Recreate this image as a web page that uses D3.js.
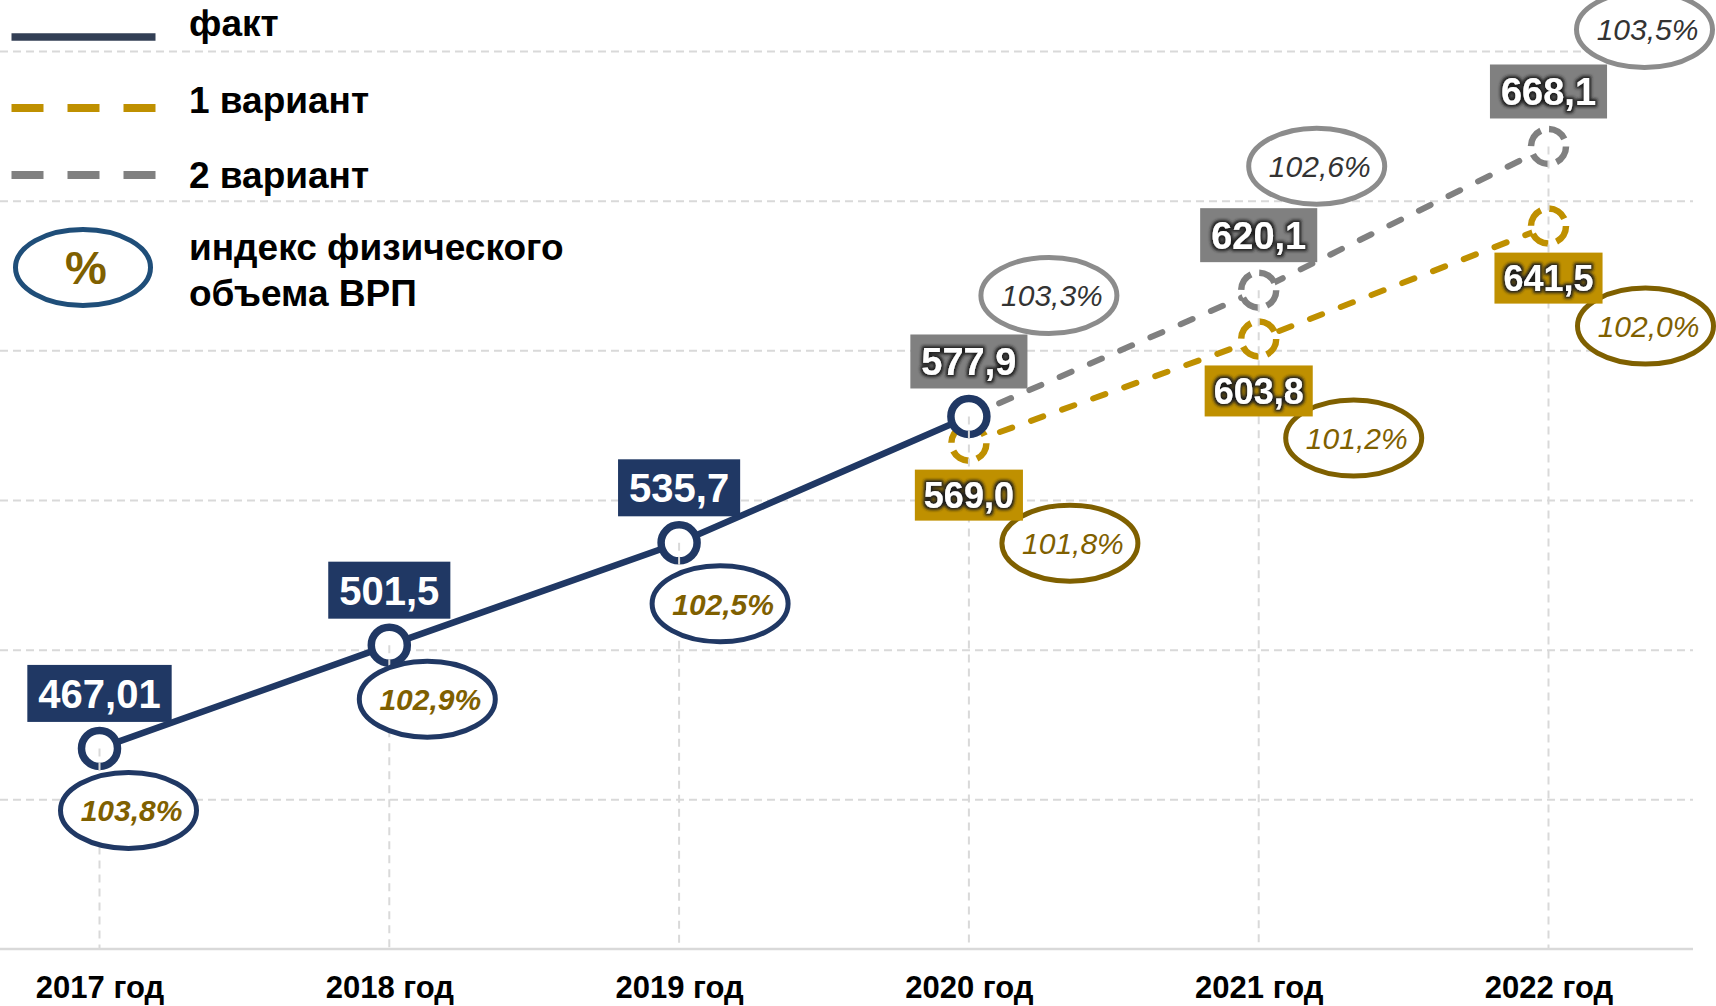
<!DOCTYPE html>
<html>
<head>
<meta charset="utf-8">
<script src="https://cdn.jsdelivr.net/npm/d3@7"></script>
<style>
  body { margin: 0; background: #fff; }
  svg { display: block; font-family: "Liberation Sans", Arial, sans-serif; }
</style>
</head>
<body>
<script>
// ВРП: факт и два варианта прогноза

var years = ["2017 год", "2018 год", "2019 год", "2020 год", "2021 год", "2022 год"];

var factYears = years.slice(0, 4);
var factValues = [467.01, 501.5, 535.7, 577.9];
var factIndex = [103.8, 102.9, 102.5];          // 2017-2019

var forecastYears = years.slice(3);
var var1Values = [569.0, 603.8, 641.5];
var var1Index = [101.8, 101.2, 102.0];
var var2Values = [577.9, 620.1, 668.1];
var var2Index = [103.3, 102.6, 103.5];

var gridValues = [450, 500, 550, 600, 650, 700];

var legendItems = ["факт", "1 вариант", "2 вариант"];
var legendIndexText = ["индекс физического", "объема ВРП"];

// layout of the index ellipses relative to their point
var factIdxOffset = [[29, 62], [38, 54], [41, 61]];
var var1IdxOffset = [[101, 100], [95, 99], [97, 100]];
var var2IdxOffset = [[80, -121], [58, -124], [96, -117]];

var NAVY = "#203864", GOLD = "#bf9000", GRAY = "#808080",
    BROWN = "#7f6000", GRID = "#d9d9d9";

var W = 1716, H = 1006;

var svg = d3.select("body").append("svg")
  .attr("width", W).attr("height", H);

var defs = svg.append("defs");
var glow = defs.append("filter").attr("id", "glow")
  .attr("x", "-20%").attr("y", "-30%").attr("width", "140%").attr("height", "160%");
glow.append("feMorphology").attr("in", "SourceAlpha").attr("operator", "dilate")
  .attr("radius", 1.8).attr("result", "thick");
glow.append("feGaussianBlur").attr("in", "thick").attr("stdDeviation", 1.5).attr("result", "blur");
glow.append("feFlood").attr("flood-color", "#1e1e1e");
glow.append("feComposite").attr("in2", "blur").attr("operator", "in").attr("result", "shadow");
var merge = glow.append("feMerge");
merge.append("feMergeNode").attr("in", "shadow");
merge.append("feMergeNode").attr("in", "SourceGraphic");

var x = d3.scalePoint().domain(years).range([99.5, 1548.5]);
var y = d3.scaleLinear().domain([400, 700]).range([949, 51]);

var fmtVal = function (v) {
  var s = Math.round(v * 10) === v * 10 ? v.toFixed(1) : String(v);
  return s.replace(".", ",");
};
var fmtIdx = function (v) { return v.toFixed(1).replace(".", ",") + "%"; };

var zip = function (ys, vs) {
  return ys.map(function (yr, i) { return {year: yr, value: vs[i], i: i}; });
};
var factData = zip(factYears, factValues);
var var1Data = zip(forecastYears, var1Values);
var var2Data = zip(forecastYears, var2Values);

///////////////////////////////////////////////////////////////////////////////
// Grid and axis

var grid = svg.append("g").attr("class", "grid")
  .call(d3.axisLeft(y).tickValues(gridValues).tickSize(-1693).tickFormat(""));
grid.select(".domain").remove();
grid.selectAll("line")
  .attr("stroke", GRID).attr("stroke-width", 2).attr("stroke-dasharray", "8,5");

svg.append("line")
  .attr("x1", 0).attr("x2", 1693).attr("y1", y(400)).attr("y2", y(400))
  .attr("stroke", GRID).attr("stroke-width", 2.5);

var xAxis = svg.append("g")
  .attr("transform", "translate(0," + y(400) + ")")
  .call(d3.axisBottom(x).tickSize(0));
xAxis.select(".domain").remove();
xAxis.selectAll("text")
  .attr("y", 49).attr("dy", 0)
  .attr("fill", "#000")
  .style("font-size", "31px").style("font-weight", "bold")
  .style("font-family", "'Liberation Sans', Arial, sans-serif");

///////////////////////////////////////////////////////////////////////////////
// Lines and markers

var line = d3.line()
  .x(function (d) { return x(d.year); })
  .y(function (d) { return y(d.value); });

svg.append("path").datum(var2Data)
  .attr("d", line).attr("fill", "none")
  .attr("stroke", GRAY).attr("stroke-width", 6)
  .attr("stroke-linecap", "round").attr("stroke-dasharray", "13,20");

svg.append("path").datum(var1Data)
  .attr("d", line).attr("fill", "none")
  .attr("stroke", GOLD).attr("stroke-width", 6)
  .attr("stroke-linecap", "round").attr("stroke-dasharray", "13,20");

var dashedMarkers = function (data, color) {
  svg.append("g").selectAll("circle").data(data).enter().append("circle")
    .attr("cx", function (d) { return x(d.year); })
    .attr("cy", function (d) { return y(d.value); })
    .attr("r", 17.5)
    .attr("fill", "#fff").attr("stroke", color).attr("stroke-width", 6.5)
    .attr("stroke-dasharray", "19,8.5");
};
dashedMarkers(var1Data, GOLD);
dashedMarkers(var2Data.slice(1), GRAY);

svg.append("path").datum(factData)
  .attr("d", line).attr("fill", "none")
  .attr("stroke", NAVY).attr("stroke-width", 6.5);

svg.append("g").selectAll("circle").data(factData).enter().append("circle")
  .attr("cx", function (d) { return x(d.year); })
  .attr("cy", function (d) { return y(d.value); })
  .attr("r", 18)
  .attr("fill", "#fff").attr("stroke", NAVY).attr("stroke-width", 7.5);

// drop lines from the highest point of each year
var tops = years.map(function (yr) {
  var vals = factData.concat(var1Data, var2Data)
    .filter(function (d) { return d.year === yr; })
    .map(function (d) { return d.value; });
  return {year: yr, value: d3.max(vals)};
});
svg.append("g").selectAll("line").data(tops).enter().append("line")
  .attr("x1", function (d) { return x(d.year); })
  .attr("x2", function (d) { return x(d.year); })
  .attr("y1", function (d) { return y(d.value); })
  .attr("y2", y(400))
  .attr("stroke", GRID).attr("stroke-width", 2).attr("stroke-dasharray", "8,6");

///////////////////////////////////////////////////////////////////////////////
// Index ellipses

var indexBubbles = function (data, idx, offs, stroke, textColor, weight) {
  var g = svg.append("g").selectAll("g").data(data.slice(0, idx.length)).enter().append("g")
    .attr("transform", function (d) {
      return "translate(" + (x(d.year) + offs[d.i][0]) + "," + (y(d.value) + offs[d.i][1]) + ")";
    });
  g.append("ellipse").attr("rx", 68).attr("ry", 38)
    .attr("fill", "#fff").attr("stroke", stroke).attr("stroke-width", 5);
  g.append("text")
    .attr("x", 3).attr("y", 11)
    .attr("text-anchor", "middle")
    .attr("fill", textColor)
    .style("font-size", "30px").style("font-style", "italic").style("font-weight", weight)
    .text(function (d) { return fmtIdx(idx[d.i]); });
};
indexBubbles(factData, factIndex, factIdxOffset, NAVY, BROWN, "bold");
indexBubbles(var1Data, var1Index, var1IdxOffset, BROWN, BROWN, "normal");
indexBubbles(var2Data, var2Index, var2IdxOffset, "#8c8c8c", "#333333", "normal");

///////////////////////////////////////////////////////////////////////////////
// Value labels

var valueLabels = function (data, fill, fs, h, pad, dy, useGlow) {
  var g = svg.append("g").selectAll("g").data(data).enter().append("g")
    .attr("transform", function (d) {
      return "translate(" + x(d.year) + "," + (y(d.value) + dy) + ")";
    });
  g.append("rect").attr("fill", fill);
  var txt = g.append("text")
    .attr("text-anchor", "middle")
    .attr("y", fs * 0.36)
    .attr("fill", "#fff")
    .style("font-size", fs + "px").style("font-weight", "bold")
    .text(function (d) { return fmtVal(d.value); });
  if (useGlow) txt.attr("filter", "url(#glow)");
  txt.each(function () {
    var w = this.getComputedTextLength() + 2 * pad;
    d3.select(this.parentNode).select("rect")
      .attr("x", -w / 2).attr("y", -h / 2).attr("width", w).attr("height", h);
  });
};
valueLabels(factData.slice(0, 3), NAVY, 40, 57, 11, -55, false);
valueLabels(var2Data, GRAY, 38, 54, 11, -55, true);
valueLabels(var1Data, GOLD, 36, 51, 9, 52, true);

///////////////////////////////////////////////////////////////////////////////
// Legend

var legend = svg.append("g");
var legendY = [37, 108, 175];
var legendTextY = [36, 113, 188];
var legendColors = [NAVY, GOLD, GRAY];

legendItems.forEach(function (name, i) {
  legend.append("line")
    .attr("x1", 11.5).attr("x2", 155.5)
    .attr("y1", legendY[i]).attr("y2", legendY[i])
    .attr("stroke", i === 0 ? "#333f55" : legendColors[i])
    .attr("stroke-width", i === 0 ? 7.5 : 8)
    .attr("stroke-dasharray", i === 0 ? null : "32,24");
  legend.append("text")
    .attr("x", 189).attr("y", legendTextY[i])
    .style("font-size", "37px").style("font-weight", "bold")
    .text(name);
});

legend.append("ellipse")
  .attr("cx", 83).attr("cy", 267.5).attr("rx", 67.5).attr("ry", 38)
  .attr("fill", "#fff").attr("stroke", "#1f4e79").attr("stroke-width", 5);
legend.append("text")
  .attr("x", 86).attr("y", 284)
  .attr("text-anchor", "middle")
  .attr("fill", BROWN)
  .style("font-size", "47px").style("font-weight", "bold")
  .text("%");

legendIndexText.forEach(function (t, i) {
  legend.append("text")
    .attr("x", 189).attr("y", 260 + i * 46)
    .style("font-size", "37px").style("font-weight", "bold")
    .text(t);
});
</script>
</body>
</html>
